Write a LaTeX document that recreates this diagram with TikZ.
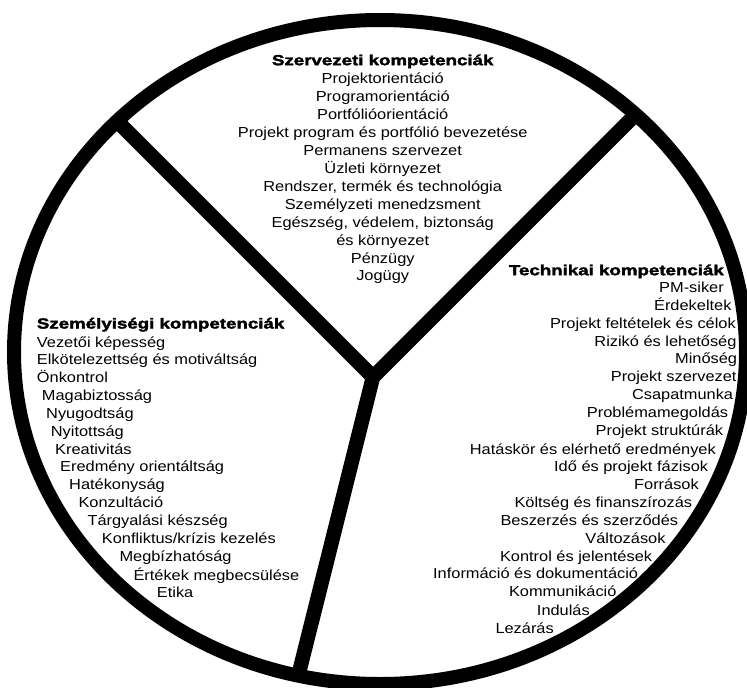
\documentclass[tikz,border=0pt]{standalone}
\usepackage{fontspec}
\setmainfont{Liberation Sans}[FakeStretch=1.13]
\newfontfamily\headfont{Liberation Sans}[FakeStretch=1.29, BoldFeatures={FakeBold=2.4}]
\newcommand\itemfont{\fontsize{14.5pt}{18pt}\selectfont}
\newcommand\titlefont{\headfont\bfseries\fontsize{14.5pt}{18pt}\selectfont}

\begin{document}
\begin{tikzpicture}[x=1pt, y=-1pt,
  ring/.style={line width=14pt},
  spoke/.style={line width=14.5pt},
  item/.style={font=\itemfont, inner sep=0pt, text height=10.4pt, text depth=0pt},
  head/.style={font=\titlefont, inner sep=0pt, text height=10.4pt, text depth=0pt}]
\useasboundingbox (0,0) rectangle (747,688);
\clip (0,0) rectangle (747,688);

% outer ring
\draw[ring] (380,352) ellipse [x radius=366pt, y radius=332pt];

% the three spokes meeting in the middle
\coordinate (hub)   at (373,377);
\coordinate (ulEnd) at (117,121);
\coordinate (urEnd) at (635.6,114.4);
\coordinate (bEnd)  at (298.2,676);
\draw[spoke, line join=round] (ulEnd) -- (hub) -- (urEnd);
\draw[spoke] (hub) -- (bEnd);

% organisational competences (top sector, centred)
\node[head] (szTitle) at (382.7,60) {Szervezeti kompetenciák};
\foreach \t [count=\i from 0] in {Projektorientáció, Programorientáció,
    Portfólióorientáció, Projekt program és portfólió bevezetése,
    Permanens szervezet, Üzleti környezet,
    {Rendszer, termék és technológia}, Személyzeti menedzsment,
    {Egészség, védelem, biztonság}, és környezet, Pénzügy, Jogügy}
  \node[item] (sz\i) at (382.7,{78.3+17.95*\i}) {\t};

% personal competences (left sector, stepped left edge)
\node[head, anchor=west] (szemTitle) at (36.7,323.3) {Személyiségi kompetenciák};
\foreach \x/\y/\t [count=\i] in {
    36.7/342.3/{Vezetői képesség},
    36.7/359.3/{Elkötelezettség és motiváltság},
    36.7/377.3/{Önkontrol},
    41.7/395/{Magabiztosság},
    46/413.3/{Nyugodtság},
    50.7/431/{Nyitottság},
    55/449/{Kreativitás},
    60/466.7/{Eredmény orientáltság},
    69/484.3/{Hatékonyság},
    78.3/502.3/{Konzultáció},
    87.3/520/{Tárgyalási készség},
    101.7/538.3/{Konfliktus/krízis kezelés},
    119.3/556.7/{Megbízhatóság},
    133.3/575/{Értékek megbecsülése},
    156.7/592.7/{Etika}}
  \node[item, anchor=west] (szem\i) at (\x,\y) {\t};

% technical competences (right sector, stepped right edge)
\node[head, anchor=east] (techTitle) at (724,270) {Technikai kompetenciák};
\foreach \x/\y/\t [count=\i] in {
    724/287.7/{PM-siker},
    731.7/305/{Érdekeltek},
    736/323.3/{Projekt feltételek és célok},
    736.7/341.7/{Rizikó és lehetőség},
    737.3/358.3/{Minőség},
    736.7/376.7/{Projekt szervezet},
    733.3/394.3/{Csapatmunka},
    728.3/412.3/{Problémamegoldás},
    723.3/430/{Projekt struktúrák},
    716/449/{Hatáskör és elérhető eredmények},
    708.3/466.7/{Idő és projekt fázisok},
    699/484.3/{Források},
    692.3/502.3/{Költség és finanszírozás},
    678.3/520/{Beszerzés és szerződés},
    665.7/538.3/{Változások},
    652.3/556/{Kontrol és jelentések},
    638.3/573.3/{Információ és dokumentáció},
    616.7/591.7/{Kommunikáció},
    590/610/{Indulás},
    554/628.3/{Lezárás}}
  \node[item, anchor=east] (tech\i) at (\x,\y) {\t};
\end{tikzpicture}
\end{document}
